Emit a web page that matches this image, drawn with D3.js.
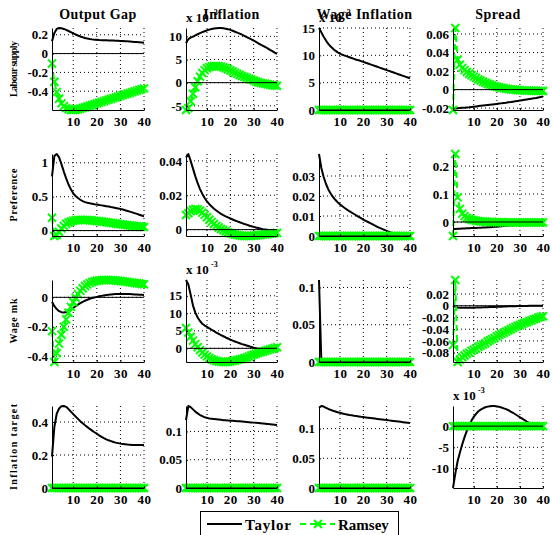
<!DOCTYPE html>
<html>
<head>
<meta charset="utf-8">
<script src="https://cdn.jsdelivr.net/npm/d3@7"></script>
<style>
  html, body { margin: 0; padding: 0; background: #fff; }
  svg { display: block; }
  svg text { font-family: 'Liberation Serif', 'DejaVu Serif', serif; font-weight: bold; fill: #000; }
</style>
</head>
<body>
<svg id="chart" width="552" height="535"></svg>
<script>
// Impulse responses, quarters 1..40, under a Taylor rule and under Ramsey policy.
const horizon = d3.range(1, 41);
const shocks = ["Labour supply", "Preference", "Wage mk", "Inflation target"];
const variables = ["Output Gap", "Inflation", "Wage Inflation", "Spread"];
const xTickValues = [10, 20, 30, 40];
const seriesNames = ["Taylor", "Ramsey"];

// ---- Labour supply shock ----
const taylorLabourGap = [0.13,0.22,0.262,0.272,0.27,0.262,0.252,0.24,0.228,0.215,0.203,0.192,0.182,0.173,0.166,0.16,0.155,0.151,0.148,0.146,0.144,0.143,0.142,0.141,0.14,0.139,0.138,0.137,0.136,0.135,0.134,0.132,0.13,0.128,0.126,0.124,0.122,0.12,0.118,0.116];
const ramseyLabourGap = [-0.105,-0.3,-0.41,-0.48,-0.53,-0.56,-0.58,-0.59,-0.6,-0.6,-0.598,-0.592,-0.585,-0.578,-0.57,-0.562,-0.554,-0.546,-0.538,-0.53,-0.522,-0.514,-0.506,-0.498,-0.49,-0.482,-0.474,-0.466,-0.458,-0.45,-0.442,-0.434,-0.426,-0.418,-0.41,-0.402,-0.394,-0.386,-0.378,-0.37];
// in units of 10^-3
const taylorLabourInfl = [8.5,9.4,9.7,9.95,10.2,10.45,10.7,10.9,11.1,11.3,11.45,11.6,11.7,11.75,11.8,11.8,11.75,11.65,11.55,11.4,11.2,11.0,10.8,10.6,10.35,10.1,9.85,9.6,9.35,9.1,8.8,8.5,8.2,7.95,7.7,7.4,7.1,6.8,6.5,6.2];
const ramseyLabourInfl = [-5.9,-5.5,-4.0,-2.4,-1.0,0.3,1.3,2.1,2.7,3.1,3.35,3.5,3.6,3.6,3.55,3.45,3.3,3.1,2.9,2.65,2.4,2.15,1.9,1.65,1.45,1.25,1.05,0.85,0.65,0.45,0.25,0.1,-0.05,-0.15,-0.25,-0.35,-0.45,-0.55,-0.62,-0.7];
// in units of 10^-3
const taylorLabourWage = [15.0,14.2,13.4,12.7,12.1,11.6,11.2,10.85,10.55,10.3,10.1,9.95,9.8,9.65,9.5,9.35,9.2,9.1,8.95,8.8,8.65,8.5,8.35,8.2,8.05,7.9,7.75,7.6,7.45,7.3,7.15,7.0,6.85,6.7,6.55,6.4,6.25,6.1,5.95,5.8];
const ramseyLabourWage = [0,0,0,0,0,0,0,0,0,0,0,0,0,0,0,0,0,0,0,0,0,0,0,0,0,0,0,0,0,0,0,0,0,0,0,0,0,0,0,0];
const taylorLabourSpread = [-0.0205,-0.0203,-0.0201,-0.0199,-0.0197,-0.0195,-0.0192,-0.019,-0.0187,-0.0184,-0.0181,-0.0178,-0.0175,-0.0172,-0.0169,-0.0166,-0.0163,-0.016,-0.0157,-0.0154,-0.0151,-0.0148,-0.0144,-0.0141,-0.0137,-0.0134,-0.013,-0.0126,-0.0122,-0.0118,-0.0114,-0.011,-0.0106,-0.0102,-0.0098,-0.0094,-0.009,-0.0085,-0.008,-0.0075];
const ramseyLabourSpread = [-0.022,0.0665,0.0325,0.027,0.0235,0.021,0.019,0.0172,0.0155,0.014,0.0125,0.011,0.0097,0.0085,0.0074,0.0064,0.0055,0.0046,0.0038,0.0031,0.0025,0.0019,0.0014,0.001,0.0006,0.0003,0,-0.0002,-0.0004,-0.0006,-0.0008,-0.0009,-0.001,-0.0011,-0.0012,-0.0013,-0.0013,-0.0014,-0.0014,-0.0015];

// ---- Preference shock ----
const taylorPrefGap = [0.8,1.1,1.13,1.08,0.98,0.87,0.77,0.68,0.61,0.55,0.51,0.48,0.455,0.435,0.42,0.41,0.402,0.396,0.39,0.385,0.378,0.372,0.366,0.36,0.354,0.347,0.341,0.334,0.327,0.32,0.31,0.3,0.29,0.279,0.268,0.257,0.246,0.234,0.222,0.21];
const ramseyPrefGap = [0.19,-0.08,-0.065,-0.02,0.03,0.07,0.1,0.12,0.135,0.145,0.152,0.156,0.158,0.158,0.157,0.155,0.152,0.149,0.145,0.141,0.137,0.133,0.128,0.124,0.119,0.114,0.109,0.104,0.099,0.094,0.089,0.084,0.08,0.076,0.072,0.068,0.064,0.06,0.056,0.052];
const taylorPrefInfl = [0.042,0.044,0.04,0.0355,0.031,0.027,0.0236,0.0208,0.0184,0.0164,0.0148,0.0134,0.0122,0.0111,0.0101,0.0092,0.0084,0.0077,0.0071,0.0065,0.0059,0.0053,0.0048,0.0043,0.0038,0.0033,0.0029,0.0024,0.002,0.0016,0.0012,0.0009,0.0006,0.0003,0.0001,-0.0001,-0.0002,-0.0003,-0.0004,-0.0005];
const ramseyPrefInfl = [0.0085,0.0095,0.0107,0.0116,0.012,0.0118,0.011,0.0099,0.0086,0.0072,0.0058,0.0045,0.0033,0.0022,0.0012,0.0004,-0.0004,-0.001,-0.0016,-0.0021,-0.0025,-0.0029,-0.0032,-0.0034,-0.0036,-0.0037,-0.0037,-0.0037,-0.0036,-0.0035,-0.0034,-0.0032,-0.0031,-0.0029,-0.0027,-0.0026,-0.0024,-0.0022,-0.0021,-0.0019];
const taylorPrefWage = [0.041,0.034,0.0295,0.026,0.0233,0.0212,0.0195,0.0181,0.0169,0.0158,0.0149,0.014,0.0132,0.0124,0.0117,0.011,0.0103,0.0096,0.0089,0.0082,0.0076,0.007,0.0064,0.0058,0.0052,0.0046,0.0041,0.0036,0.0031,0.0026,0.0021,0.0017,0.0013,0.0009,0.0006,0.0003,0.0001,0,0,0];
const ramseyPrefWage = [0,0,0,0,0,0,0,0,0,0,0,0,0,0,0,0,0,0,0,0,0,0,0,0,0,0,0,0,0,0,0,0,0,0,0,0,0,0,0,0];
const taylorPrefSpread = [-0.025,-0.0246,-0.0242,-0.0238,-0.0234,-0.023,-0.0226,-0.0222,-0.0218,-0.0214,-0.021,-0.0206,-0.0202,-0.0198,-0.0193,-0.0188,-0.0183,-0.0178,-0.0173,-0.0168,-0.016,-0.0152,-0.0144,-0.0136,-0.0128,-0.012,-0.0112,-0.0104,-0.0096,-0.0088,-0.0081,-0.0074,-0.0068,-0.0062,-0.0056,-0.0051,-0.0046,-0.0042,-0.0038,-0.0035];
const ramseyPrefSpread = [-0.05,0.243,0.088,0.047,0.03,0.021,0.015,0.011,0.008,0.006,0.0045,0.0033,0.0024,0.0016,0.001,0.0005,0.0001,-0.0002,-0.0005,-0.0007,-0.0009,-0.001,-0.0011,-0.0012,-0.0013,-0.0014,-0.0015,-0.0015,-0.0016,-0.0016,-0.0017,-0.0017,-0.0017,-0.0018,-0.0018,-0.0018,-0.0018,-0.0018,-0.0018,-0.0018];

// ---- Wage mark-up shock ----
const taylorMarkupGap = [-0.03,-0.06,-0.08,-0.094,-0.101,-0.103,-0.1,-0.094,-0.085,-0.073,-0.061,-0.05,-0.04,-0.031,-0.023,-0.016,-0.01,-0.005,-0.001,0.003,0.007,0.01,0.013,0.016,0.018,0.02,0.021,0.022,0.023,0.023,0.023,0.023,0.022,0.022,0.021,0.02,0.019,0.018,0.017,0.016];
const ramseyMarkupGap = [-0.23,-0.44,-0.38,-0.315,-0.255,-0.2,-0.15,-0.105,-0.065,-0.032,-0.003,0.022,0.044,0.062,0.077,0.088,0.097,0.104,0.109,0.113,0.115,0.117,0.118,0.118,0.118,0.117,0.116,0.115,0.113,0.111,0.109,0.107,0.105,0.102,0.1,0.098,0.096,0.094,0.091,0.088];
// in units of 10^-3
const taylorMarkupInfl = [19.5,18.2,15.3,12.2,10.2,8.8,7.8,7.0,6.5,6.1,5.7,5.3,4.9,4.5,4.15,3.8,3.45,3.1,2.8,2.5,2.2,1.95,1.7,1.45,1.2,1.0,0.8,0.6,0.4,0.2,0.05,-0.1,-0.2,-0.25,-0.3,-0.3,-0.25,-0.2,-0.1,0.0];
const ramseyMarkupInfl = [5.8,4.5,3.3,2.2,1.2,0.3,-0.5,-1.2,-1.8,-2.3,-2.75,-3.1,-3.4,-3.6,-3.75,-3.85,-3.9,-3.9,-3.85,-3.75,-3.6,-3.45,-3.3,-3.15,-3.0,-2.8,-2.6,-2.35,-2.05,-1.75,-1.5,-1.3,-1.1,-0.9,-0.7,-0.5,-0.3,-0.1,0.1,0.3];
const taylorMarkupWage = [0.11,0.001,0.0005,0.0003,0.0002,0.0001,0.0001,0,0,0,0,0,0,0,0,0,0,0,0,0,0,0,0,0,0,0,0,0,0,0,0,0,0,0,0,0,0,0,0,0];
const ramseyMarkupWage = [0,0,0,0,0,0,0,0,0,0,0,0,0,0,0,0,0,0,0,0,0,0,0,0,0,0,0,0,0,0,0,0,0,0,0,0,0,0,0,0];
const taylorMarkupSpread = [0,-0.002,-0.0028,-0.0032,-0.0034,-0.0035,-0.0035,-0.0034,-0.0033,-0.0032,-0.0031,-0.003,-0.0028,-0.0027,-0.0025,-0.0024,-0.0022,-0.0021,-0.0019,-0.0018,-0.0016,-0.0015,-0.0013,-0.0012,-0.001,-0.0009,-0.0008,-0.0007,-0.0006,-0.0005,-0.0004,-0.0003,-0.0002,-0.0001,0,0,0.0001,0.0001,0.0002,0.0002];
const ramseyMarkupSpread = [-0.067,0.044,-0.096,-0.092,-0.088,-0.085,-0.082,-0.08,-0.077,-0.075,-0.073,-0.07,-0.068,-0.066,-0.064,-0.061,-0.059,-0.057,-0.055,-0.052,-0.05,-0.048,-0.046,-0.044,-0.042,-0.04,-0.038,-0.036,-0.034,-0.033,-0.031,-0.029,-0.028,-0.026,-0.025,-0.023,-0.022,-0.02,-0.019,-0.018];

// ---- Inflation target shock ----
const taylorTargetGap = [0.19,0.37,0.45,0.482,0.495,0.497,0.492,0.478,0.463,0.448,0.433,0.419,0.405,0.392,0.38,0.369,0.358,0.348,0.338,0.329,0.319,0.31,0.302,0.295,0.289,0.284,0.279,0.275,0.272,0.269,0.267,0.265,0.263,0.262,0.261,0.26,0.26,0.26,0.26,0.26];
const ramseyTargetGap = [0,0,0,0,0,0,0,0,0,0,0,0,0,0,0,0,0,0,0,0,0,0,0,0,0,0,0,0,0,0,0,0,0,0,0,0,0,0,0,0];
const taylorTargetInfl = [0.12,0.145,0.143,0.139,0.135,0.132,0.129,0.127,0.125,0.124,0.123,0.1225,0.122,0.1215,0.121,0.1205,0.12,0.1197,0.1194,0.1191,0.1188,0.1185,0.1182,0.1179,0.1176,0.1172,0.1168,0.1164,0.116,0.1156,0.1152,0.1148,0.1144,0.114,0.1136,0.1132,0.1128,0.1124,0.112,0.1115];
const ramseyTargetInfl = [0,0,0,0,0,0,0,0,0,0,0,0,0,0,0,0,0,0,0,0,0,0,0,0,0,0,0,0,0,0,0,0,0,0,0,0,0,0,0,0];
const taylorTargetWage = [0.135,0.138,0.137,0.135,0.133,0.1315,0.13,0.1288,0.1276,0.1265,0.1255,0.1246,0.1238,0.123,0.1223,0.1216,0.121,0.1204,0.1198,0.1193,0.1188,0.1183,0.1178,0.1173,0.1168,0.1163,0.1158,0.1153,0.1148,0.1143,0.1138,0.1133,0.1128,0.1123,0.1118,0.1113,0.1108,0.1103,0.1098,0.1093];
const ramseyTargetWage = [0,0,0,0,0,0,0,0,0,0,0,0,0,0,0,0,0,0,0,0,0,0,0,0,0,0,0,0,0,0,0,0,0,0,0,0,0,0,0,0];
// in units of 10^-3
const taylorTargetSpread = [-14.6,-11.2,-8.3,-6.2,-4.3,-2.6,-1.1,0.2,1.3,2.2,2.9,3.5,3.9,4.2,4.45,4.6,4.7,4.75,4.75,4.65,4.55,4.4,4.2,4.0,3.75,3.45,3.15,2.8,2.45,2.1,1.75,1.4,1.05,0.75,0.45,0.2,0.05,-0.05,-0.1,-0.1];
const ramseyTargetSpread = [0,0,0,0,0,0,0,0,0,0,0,0,0,0,0,0,0,0,0,0,0,0,0,0,0,0,0,0,0,0,0,0,0,0,0,0,0,0,0,0];

// y tick values per panel (rows = shocks, columns = variables)
const yTickValues = [
  [[-0.4, -0.2, 0, 0.2], [-5, 0, 5, 10], [0, 5, 10, 15], [-0.02, 0, 0.02, 0.04, 0.06]],
  [[0, 0.5, 1], [0, 0.02, 0.04], [0, 0.01, 0.02, 0.03], [0, 0.1, 0.2]],
  [[-0.4, -0.2, 0], [0, 5, 10, 15], [0, 0.05, 0.1], [-0.08, -0.06, -0.04, -0.02, 0, 0.02]],
  [[0, 0.2, 0.4], [0, 0.05, 0.1], [0, 0.05, 0.1], [-10, -5, 0]]
];
// axis multiplier exponents (x 10^e), 0 = none
const axisExponents = [
  [0, -3, -3, 0],
  [0, 0, 0, 0],
  [0, -3, 0, 0],
  [0, 0, 0, -3]
];

const taylorSeries = [
  [taylorLabourGap, taylorLabourInfl, taylorLabourWage, taylorLabourSpread],
  [taylorPrefGap, taylorPrefInfl, taylorPrefWage, taylorPrefSpread],
  [taylorMarkupGap, taylorMarkupInfl, taylorMarkupWage, taylorMarkupSpread],
  [taylorTargetGap, taylorTargetInfl, taylorTargetWage, taylorTargetSpread]
];
const ramseySeries = [
  [ramseyLabourGap, ramseyLabourInfl, ramseyLabourWage, ramseyLabourSpread],
  [ramseyPrefGap, ramseyPrefInfl, ramseyPrefWage, ramseyPrefSpread],
  [ramseyMarkupGap, ramseyMarkupInfl, ramseyMarkupWage, ramseyMarkupSpread],
  [ramseyTargetGap, ramseyTargetInfl, ramseyTargetWage, ramseyTargetSpread]
];

// ---- layout ----
const colLeft = [52, 186, 319, 453];
const colRight = [144, 277, 410, 543];
const rowTop = [28, 154, 280, 406];
const rowBottom = [110, 236, 362, 488];
const shockLabelLength = [56, 53, 45, 86];

const GREEN = "#00ff00";
const FONT = "'Liberation Serif', 'DejaVu Serif', serif";

const svg = d3.select("#chart");
svg.append("rect").attr("width", 552).attr("height", 535).attr("fill", "#fff");

const fmt = v => String(+v.toFixed(6));
const crossPath = "M-4,-4L4,4M-4,4L4,-4";

function styleAxis(sel) {
  sel.attr("font-family", FONT).attr("font-size", 13).attr("font-weight", "bold");
  sel.select(".domain").attr("stroke", "#000").attr("stroke-width", 1);
  sel.selectAll(".tick line").attr("stroke", "#000").attr("stroke-width", 1);
  sel.selectAll(".tick text").attr("fill", "#000").style("font-family", FONT);
}

for (let r = 0; r < 4; r++) {
  for (let c = 0; c < 4; c++) {
    const taylor = taylorSeries[r][c];
    const ramsey = ramseySeries[r][c];
    const x = d3.scaleLinear().domain([1, 40]).range([colLeft[c], colRight[c]]);
    const y = d3.scaleLinear()
      .domain(d3.extent(taylor.concat(ramsey, [0])))
      .range([rowBottom[r], rowTop[r]]);
    const g = svg.append("g");

    // dotted grid
    g.append("g").selectAll("line").data(xTickValues).join("line")
      .attr("x1", d => x(d)).attr("x2", d => x(d))
      .attr("y1", rowTop[r]).attr("y2", rowBottom[r])
      .attr("stroke", "#000").attr("stroke-width", 1).attr("stroke-dasharray", "1,3");
    g.append("g").selectAll("line").data(yTickValues[r][c]).join("line")
      .attr("x1", x(1)).attr("x2", x(40))
      .attr("y1", d => y(d)).attr("y2", d => y(d))
      .attr("stroke", "#000").attr("stroke-width", 1).attr("stroke-dasharray", "1,3");

    const line = d3.line().x((d, i) => x(horizon[i])).y(d => y(d));

    // Taylor rule response
    g.append("path").datum(taylor).attr("d", line)
      .attr("fill", "none").attr("stroke", "#000").attr("stroke-width", 2)
      .attr("stroke-linejoin", "round");

    // Ramsey response: dashed line with x markers
    g.append("path").datum(ramsey).attr("d", line)
      .attr("fill", "none").attr("stroke", GREEN).attr("stroke-width", 2)
      .attr("stroke-dasharray", "6,4");
    g.append("g").selectAll("path").data(ramsey).join("path")
      .attr("transform", (d, i) => `translate(${x(horizon[i])},${y(d)})`)
      .attr("d", crossPath)
      .attr("fill", "none").attr("stroke", GREEN).attr("stroke-width", 2);

    // steady-state reference line
    g.append("line")
      .attr("x1", x(1)).attr("x2", x(40)).attr("y1", y(0)).attr("y2", y(0))
      .attr("stroke", "#000").attr("stroke-width", 1);

    // axes
    g.append("g").attr("transform", `translate(${x(1)},0)`)
      .call(d3.axisLeft(y).tickValues(yTickValues[r][c]).tickFormat(fmt)
        .tickSizeInner(-2).tickSizeOuter(0).tickPadding(4))
      .call(styleAxis);
    g.append("g").attr("transform", `translate(0,${rowBottom[r]})`)
      .call(d3.axisBottom(x).tickValues(xTickValues).tickFormat(d3.format("d"))
        .tickSizeInner(-2).tickSizeOuter(0).tickPadding(7))
      .call(styleAxis)
      .selectAll(".tick text").attr("letter-spacing", 0.5);

    // multiplier label
    if (axisExponents[r][c] !== 0) {
      g.append("text").attr("x", colLeft[c]).attr("y", rowTop[r] - 6)
        .attr("font-size", 13).text("x 10");
      g.append("text").attr("x", colLeft[c] + 25).attr("y", rowTop[r] - 13)
        .attr("font-size", 8).text(String(axisExponents[r][c]));
    }

    // column titles
    if (r === 0) {
      svg.append("text")
        .attr("x", (colLeft[c] + colRight[c]) / 2).attr("y", 18.5)
        .attr("text-anchor", "middle").attr("font-size", 14)
        .attr("letter-spacing", 0.5)
        .text(variables[c]);
    }
  }
  // row labels
  const cy = (rowTop[r] + rowBottom[r]) / 2;
  svg.append("text")
    .attr("transform", `translate(17,${cy}) rotate(-90)`)
    .attr("text-anchor", "middle").attr("font-size", 10)
    .attr("textLength", shockLabelLength[r]).attr("lengthAdjust", "spacing")
    .text(shocks[r]);
}

// legend
const legend = svg.append("g");
legend.append("rect").attr("x", 200.5).attr("y", 511.5).attr("width", 198).attr("height", 30)
  .attr("fill", "#fff").attr("stroke", "#000").attr("stroke-width", 1);
legend.append("line").attr("x1", 207).attr("x2", 242).attr("y1", 524).attr("y2", 524)
  .attr("stroke", "#000").attr("stroke-width", 2);
legend.append("text").attr("x", 245).attr("y", 530).attr("font-size", 15)
  .attr("letter-spacing", 0.8).text(seriesNames[0]);
legend.append("line").attr("x1", 300).attr("x2", 335).attr("y1", 524).attr("y2", 524)
  .attr("stroke", GREEN).attr("stroke-width", 2).attr("stroke-dasharray", "6,4");
legend.append("path").attr("transform", "translate(318,524)").attr("d", crossPath)
  .attr("fill", "none").attr("stroke", GREEN).attr("stroke-width", 2);
legend.append("text").attr("x", 338).attr("y", 530).attr("font-size", 15)
  .text(seriesNames[1]);
</script>
</body>
</html>
